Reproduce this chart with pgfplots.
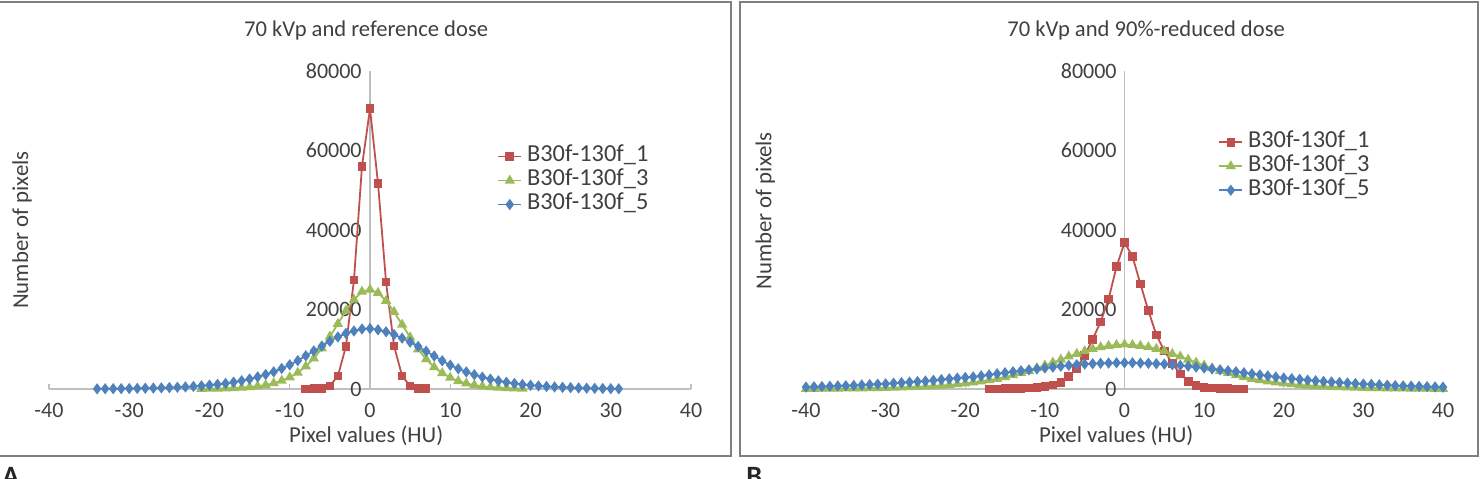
\documentclass[border=0pt]{standalone}
\usepackage{pgfplots}
\pgfplotsset{compat=1.18}
\usepackage{pgfplotstable}
\usepackage{fontspec}
\setmainfont{Carlito}

\definecolor{xred}{HTML}{C0504D}
\definecolor{xgreen}{HTML}{9BBB59}
\definecolor{xblue}{HTML}{4F81BD}
\definecolor{framegray}{HTML}{7F7F7F}
\definecolor{axisgray}{HTML}{BFBFBF}
\definecolor{txt}{HTML}{404040}

% ---- 70 kVp, reference dose ----
\pgfplotstableread{
x y
-8 20
-7 60
-6 150
-5 800
-4 3300
-3 10700
-2 27400
-1 56000
0 70500
1 51700
2 26900
3 10800
4 3300
5 750
6 150
7 60
}\refone
\pgfplotstableread{
x y
-21 60
-20 80
-19 110
-18 160
-17 230
-16 330
-15 480
-14 700
-13 1000
-12 1450
-11 2100
-10 2950
-9 4100
-8 5700
-7 7700
-6 10200
-5 13200
-4 16400
-3 19700
-2 22500
-1 24500
0 25000
1 24200
2 22200
3 19400
4 16200
5 13000
6 10000
7 7500
8 5500
9 4000
10 2850
11 2000
12 1400
13 980
14 680
15 470
16 330
17 230
18 160
19 110
}\refthree
\pgfplotstableread{
x y
-34 40
-33 60
-32 80
-31 95
-30 120
-29 150
-28 200
-27 240
-26 290
-25 360
-24 440
-23 530
-22 650
-21 790
-20 960
-19 1170
-18 1410
-17 1720
-16 2080
-15 2510
-14 3040
-13 3650
-12 4330
-11 5170
-10 6080
-9 7140
-8 8360
-7 9580
-6 10800
-5 12000
-4 13100
-3 14000
-2 14600
-1 15100
0 15200
1 14900
2 14400
3 13700
4 12800
5 11800
6 10700
7 9500
8 8300
9 7100
10 6000
11 5100
12 4300
13 3600
14 3000
15 2500
16 2050
17 1700
18 1400
19 1150
20 950
21 780
22 640
23 520
24 420
25 340
26 270
27 210
28 160
29 120
30 90
31 60
}\reffive

% ---- 70 kVp, 90%-reduced dose ----
\pgfplotstableread{
x y
-17 30
-16 50
-15 80
-14 120
-13 170
-12 250
-11 380
-10 600
-9 1000
-8 1700
-7 3200
-6 5200
-5 8500
-4 12500
-3 16900
-2 22600
-1 30800
0 36800
1 33400
2 26400
3 19700
4 13600
5 9600
6 6400
7 3800
8 1900
9 900
10 450
11 250
12 150
13 90
14 50
15 30
}\lowone
\pgfplotstableread{
x y
-40 55
-39 65
-38 80
-37 95
-36 110
-35 130
-34 160
-33 180
-32 210
-31 250
-30 290
-29 340
-28 390
-27 460
-26 540
-25 640
-24 740
-23 860
-22 1010
-21 1200
-20 1400
-19 1650
-18 1900
-17 2240
-16 2580
-15 3020
-14 3470
-13 4030
-12 4590
-11 5260
-10 5940
-9 6660
-8 7390
-7 8180
-6 8850
-5 9520
-4 10080
-3 10530
-2 10860
-1 11090
0 11200
1 11090
2 10860
3 10530
4 10080
5 9520
6 8850
7 8180
8 7390
9 6660
10 5940
11 5260
12 4590
13 4030
14 3470
15 3020
16 2580
17 2240
18 1900
19 1650
20 1400
21 1200
22 1010
23 860
24 740
25 640
26 540
27 460
28 390
29 340
30 290
31 250
32 210
33 180
34 160
35 130
36 110
37 95
38 80
39 65
40 55
}\lowthree
\pgfplotstableread{
x y
-40 480
-39 560
-38 620
-37 690
-36 770
-35 830
-34 900
-33 1010
-32 1110
-31 1220
-30 1310
-29 1460
-28 1600
-27 1730
-26 1870
-25 2000
-24 2180
-23 2350
-22 2560
-21 2740
-20 2900
-19 3040
-18 3300
-17 3560
-16 3830
-15 4090
-14 4360
-13 4590
-12 4820
-11 5050
-10 5280
-9 5510
-8 5740
-7 5940
-6 6110
-5 6270
-4 6370
-3 6470
-2 6530
-1 6590
0 6600
1 6590
2 6530
3 6470
4 6370
5 6270
6 6110
7 5940
8 5740
9 5510
10 5280
11 5050
12 4820
13 4590
14 4360
15 4090
16 3830
17 3560
18 3300
19 3040
20 2770
21 2610
22 2440
23 2240
24 2080
25 1910
26 1780
27 1650
28 1520
29 1390
30 1250
31 1160
32 1060
33 960
34 860
35 790
36 730
37 660
38 590
39 530
40 460
}\lowfive

\pgfplotsset{
  histo/.style={
    scale only axis, height=159pt,
    xmin=-40, xmax=40, ymin=0, ymax=80000,
    axis x line=bottom, axis y line=left,
    x axis line style={axisgray, line width=0.6pt, -},
    y axis line style={draw=none},
    xtick={-40,-30,...,40}, ytick={0,20000,40000,60000,80000},
    scaled y ticks=false,
    /pgf/number format/1000 sep={},
    /pgf/number format/assume math mode=true,
    xtick style={axisgray, line width=0.6pt},
    ytick style={draw=none},
    tick align=inside, major tick length=2.5pt,
    tick label style={font=\fontsize{11}{13}\selectfont, text=txt},
    xticklabel style={anchor=center, yshift=-10.5pt},
    yticklabel style={anchor=east, inner sep=0pt},
    label style={font=\fontsize{11.4}{13}\selectfont, text=txt},
    xlabel style={anchor=center, yshift=-23.5pt},
    ylabel style={anchor=center},
    title style={font=\fontsize{11.3}{13}\selectfont, text=txt, anchor=center, yshift=14.5pt},
    xlabel={Pixel values (HU)},
    ylabel={Number of pixels},
    legend style={draw=none, fill=none, inner sep=0pt, anchor=north west,
      font=\fontsize{12.2}{14}\selectfont, text=txt, column sep=2.5pt,
      nodes={inner sep=0pt, text height=8.5pt, text depth=3.5pt}},
    legend cell align=left,
    legend image code/.code={\draw[mark repeat=2,mark phase=2] plot coordinates {(0cm,0cm) (0.2cm,0cm) (0.4cm,0cm)};},
    clip=false,
  },
  sone/.style={xred, line width=0.9pt, mark=square*, mark size=1.7pt, mark options={solid}},
  sthree/.style={xgreen, line width=0.9pt, mark=triangle*, mark size=2.1pt, mark options={solid}},
  sfive/.style={xblue, line width=0.9pt, mark=diamond*, mark size=2.1pt, mark options={solid}},
}

\begin{document}
\begin{tikzpicture}
% panel frames
\draw[framegray, line width=1pt] (-2pt,-0.75pt) rectangle (365.5pt,-228pt);
\draw[framegray, line width=1pt] (370pt,-0.75pt) rectangle (739pt,-228pt);

% A
\begin{axis}[histo, at={(24.5pt,-194.5pt)}, anchor=south west, width=321pt,
  yticklabel style={xshift=156.5pt},
  title={70 kVp and reference dose},
  title style={at={(axis description cs:0.494,1)}},
  xlabel style={at={(axis description cs:0.494,0)}},
  ylabel style={at={(axis description cs:-0.042,0.5)}},
  legend style={at={(axis description cs:0.698,0.77)}}]
  \draw[axisgray, line width=0.6pt] (axis cs:0,0) -- (axis cs:0,80000);
  \addplot[sone] table {\refone};
  \addplot[sthree] table {\refthree};
  \addplot[sfive] table {\reffive};
  \legend{B30f-130f\_1, B30f-130f\_3, B30f-130f\_5}
\end{axis}

% B
\begin{axis}[histo, at={(403pt,-194.5pt)}, anchor=south west, width=318.5pt,
  yticklabel style={xshift=155.5pt},
  title={70 kVp and 90\%-reduced dose},
  title style={at={(axis description cs:0.534,1)}},
  xlabel style={at={(axis description cs:0.487,0)}},
  ylabel style={at={(axis description cs:-0.064,0.56)}},
  legend style={at={(axis description cs:0.647,0.815)}}]
  \draw[axisgray, line width=0.6pt] (axis cs:0,0) -- (axis cs:0,80000);
  \addplot[sone] table {\lowone};
  \addplot[sthree] table {\lowthree};
  \addplot[sfive] table {\lowfive};
  \legend{B30f-130f\_1, B30f-130f\_3, B30f-130f\_5}
\end{axis}

\node[anchor=north west, inner sep=0pt, text=black!85, font=\bfseries\fontsize{14}{16}\selectfont] at (1pt,-233.5pt) {A};
\node[anchor=north west, inner sep=0pt, text=black!85, font=\bfseries\fontsize{14}{16}\selectfont] at (373pt,-233.5pt) {B};

\pgfresetboundingbox
\useasboundingbox (0pt,0pt) rectangle (742pt,-239pt);
\end{tikzpicture}
\end{document}
